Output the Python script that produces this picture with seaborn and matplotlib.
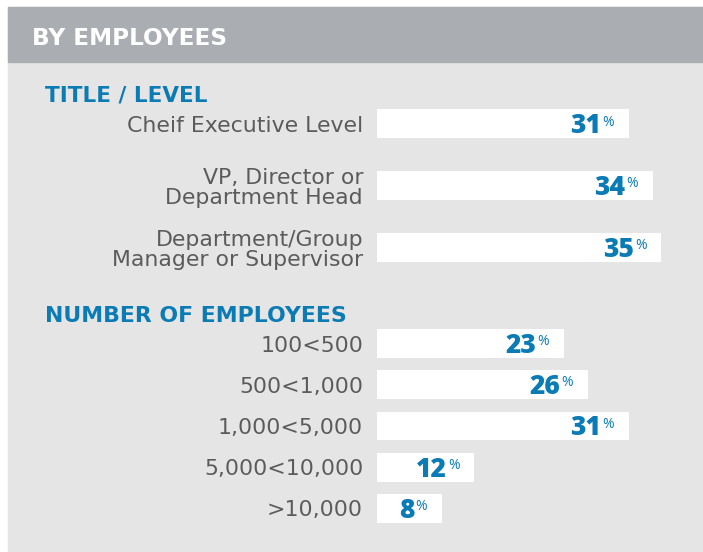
import matplotlib
matplotlib.use("Agg")
import matplotlib.pyplot as plt
from matplotlib.patches import Rectangle
import seaborn as sns

# data
title_labels = ["Cheif Executive Level", "VP, Director or\nDepartment Head",
                "Department/Group\nManager or Supervisor"]
title_values = [31, 34, 35]
size_labels = ["100<500", "500<1,000", "1,000<5,000", "5,000<10,000", ">10,000"]
size_values = [23, 26, 31, 12, 8]

BLUE = "#0b7bb5"
GREY_TXT = "#5b5b5b"
PANEL = "#e5e5e5"
HEADER = "#aaadb1"

W, H = 703, 552
sns.set_theme(style="white")
plt.rcParams["font.family"] = ["DejaVu Sans"]

fig = plt.figure(figsize=(W / 100, H / 100), dpi=100)
fig.patch.set_facecolor("white")


def fx(x):
    return x / W


def fy(y):
    return 1 - y / H


# panel background + header strip
fig.add_artist(Rectangle((fx(8), 0), 1 - fx(8), fy(7), transform=fig.transFigure,
                         color=PANEL, zorder=0))
fig.add_artist(Rectangle((fx(8), fy(62)), 1 - fx(8), fy(7) - fy(62),
                         transform=fig.transFigure, color=HEADER, zorder=0))

fig.text(fx(32), fy(45), "BY EMPLOYEES", color="white", fontsize=16.7,
         fontweight="bold", va="baseline", ha="left")
fig.text(fx(45), fy(102), "TITLE / LEVEL", color=BLUE, fontsize=15.5,
         fontweight="bold", va="baseline", ha="left")
fig.text(fx(45), fy(322), "NUMBER OF EMPLOYEES", color=BLUE, fontsize=15.8,
         fontweight="bold", va="baseline", ha="left")

x0 = 377
px_per_pct = 8.12
xmax = 40
num_font = ["Open Sans", "DejaVu Sans"]


def bar_block(labels, values, top, bottom, width):
    ax = fig.add_axes([fx(x0), fy(bottom), (xmax * px_per_pct) / W, fy(top) - fy(bottom)])
    sns.barplot(x=values, y=labels, ax=ax, color="white", width=width,
                orient="h", saturation=1)
    ax.set_facecolor("none")
    for b in ax.patches:
        b.set_edgecolor("none")
    ax.set_xlim(0, xmax)
    ax.set_ylim(len(values) - 0.5, -0.5)
    ax.set_xticks([])
    ax.set_xlabel("")
    ax.set_ylabel("")
    sns.despine(ax=ax, left=True, bottom=True)
    ax.tick_params(axis="y", length=0, pad=10, labelsize=15.8, labelcolor=GREY_TXT)
    for lbl in ax.get_yticklabels():
        lbl.set_multialignment("right")
        lbl.set_linespacing(1.0)
    for i, v in enumerate(values):
        ax.annotate(f"{v}", xy=(v, i), xytext=(-19.8, -6.8), textcoords="offset points",
                    ha="right", va="baseline", fontsize=19, fontweight="heavy",
                    color=BLUE, family=num_font)
        ax.annotate("%", xy=(v, i), xytext=(-19.0, -1.2), textcoords="offset points",
                    ha="left", va="baseline", fontsize=10, color=BLUE,
                    family=num_font)
    return ax


bar_block(title_labels, title_values, 93.1, 278.4, 0.47)
bar_block(size_labels, size_values, 322.9, 529.1, 0.70)

fig.savefig("out.png", dpi=100, facecolor="white")
